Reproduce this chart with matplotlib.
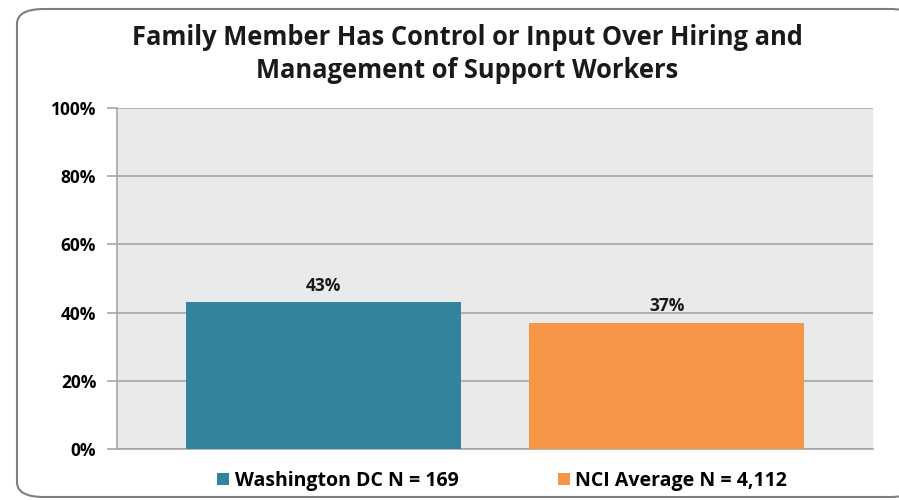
import matplotlib.pyplot as plt
from matplotlib.patches import FancyBboxPatch

groups = ['Washington DC N = 169', 'NCI Average N = 4,112']
values = [43, 37]
colors = ['#31849B', '#F79646']
yticks = [0, 20, 40, 60, 80, 100]

plt.rcParams['font.family'] = ['Open Sans', 'DejaVu Sans']
plt.rcParams['font.weight'] = 'bold'

fig = plt.figure(figsize=(8.99, 5.0), dpi=100)

# rounded outer frame
frame = FancyBboxPatch((17 / 899, 3 / 500), 900 / 899, 488 / 500,
                       boxstyle='round,pad=0,rounding_size=0.03',
                       transform=fig.transFigure, facecolor='white',
                       edgecolor='#7F7F7F', linewidth=1.5, zorder=-5)
fig.patches.append(frame)

ax = fig.add_axes([117 / 899, 51 / 500, 756 / 899, 341 / 500])
ax.set_facecolor('#EAEAEA')

x = range(len(values))
bars = ax.bar(x, values, width=0.8, color=colors, zorder=3, label=groups)
for i, v in enumerate(values):
    ax.text(i, v + 2.3, f'{v}%', ha='center', va='bottom', fontsize=12.5,
            fontweight='bold', color='#1A1A1A')

ax.set_ylim(0, 100)
ax.set_xlim(-0.6, 1.6)
ax.set_yticks(yticks)
ax.set_yticklabels([f'{t}%' for t in yticks], fontsize=12.5, fontweight='bold')
ax.set_xticks([])
ax.yaxis.grid(True, color='#A6A6A6', linewidth=1.2, zorder=0)
ax.tick_params(axis='y', length=7, color='#A6A6A6', width=1.2, pad=8)
for side in ['top', 'right']:
    ax.spines[side].set_visible(False)
for side in ['left', 'bottom']:
    ax.spines[side].set_color('#A6A6A6')
    ax.spines[side].set_linewidth(1.2)

fig.text(467 / 899, 1 - 54 / 500,
         'Family Member Has Control or Input Over Hiring and\nManagement of Support Workers',
         ha='center', va='center', fontsize=18.4, fontweight='bold',
         linespacing=1.3, color='#1A1A1A')

fig.legend(bars, groups, loc='center', bbox_to_anchor=(502 / 899, 1 - 481 / 500),
           ncol=2, frameon=False, fontsize=14, handlelength=0.62, handleheight=0.62,
           handletextpad=0.3, columnspacing=5.1)

fig.savefig('out.png', dpi=100)
